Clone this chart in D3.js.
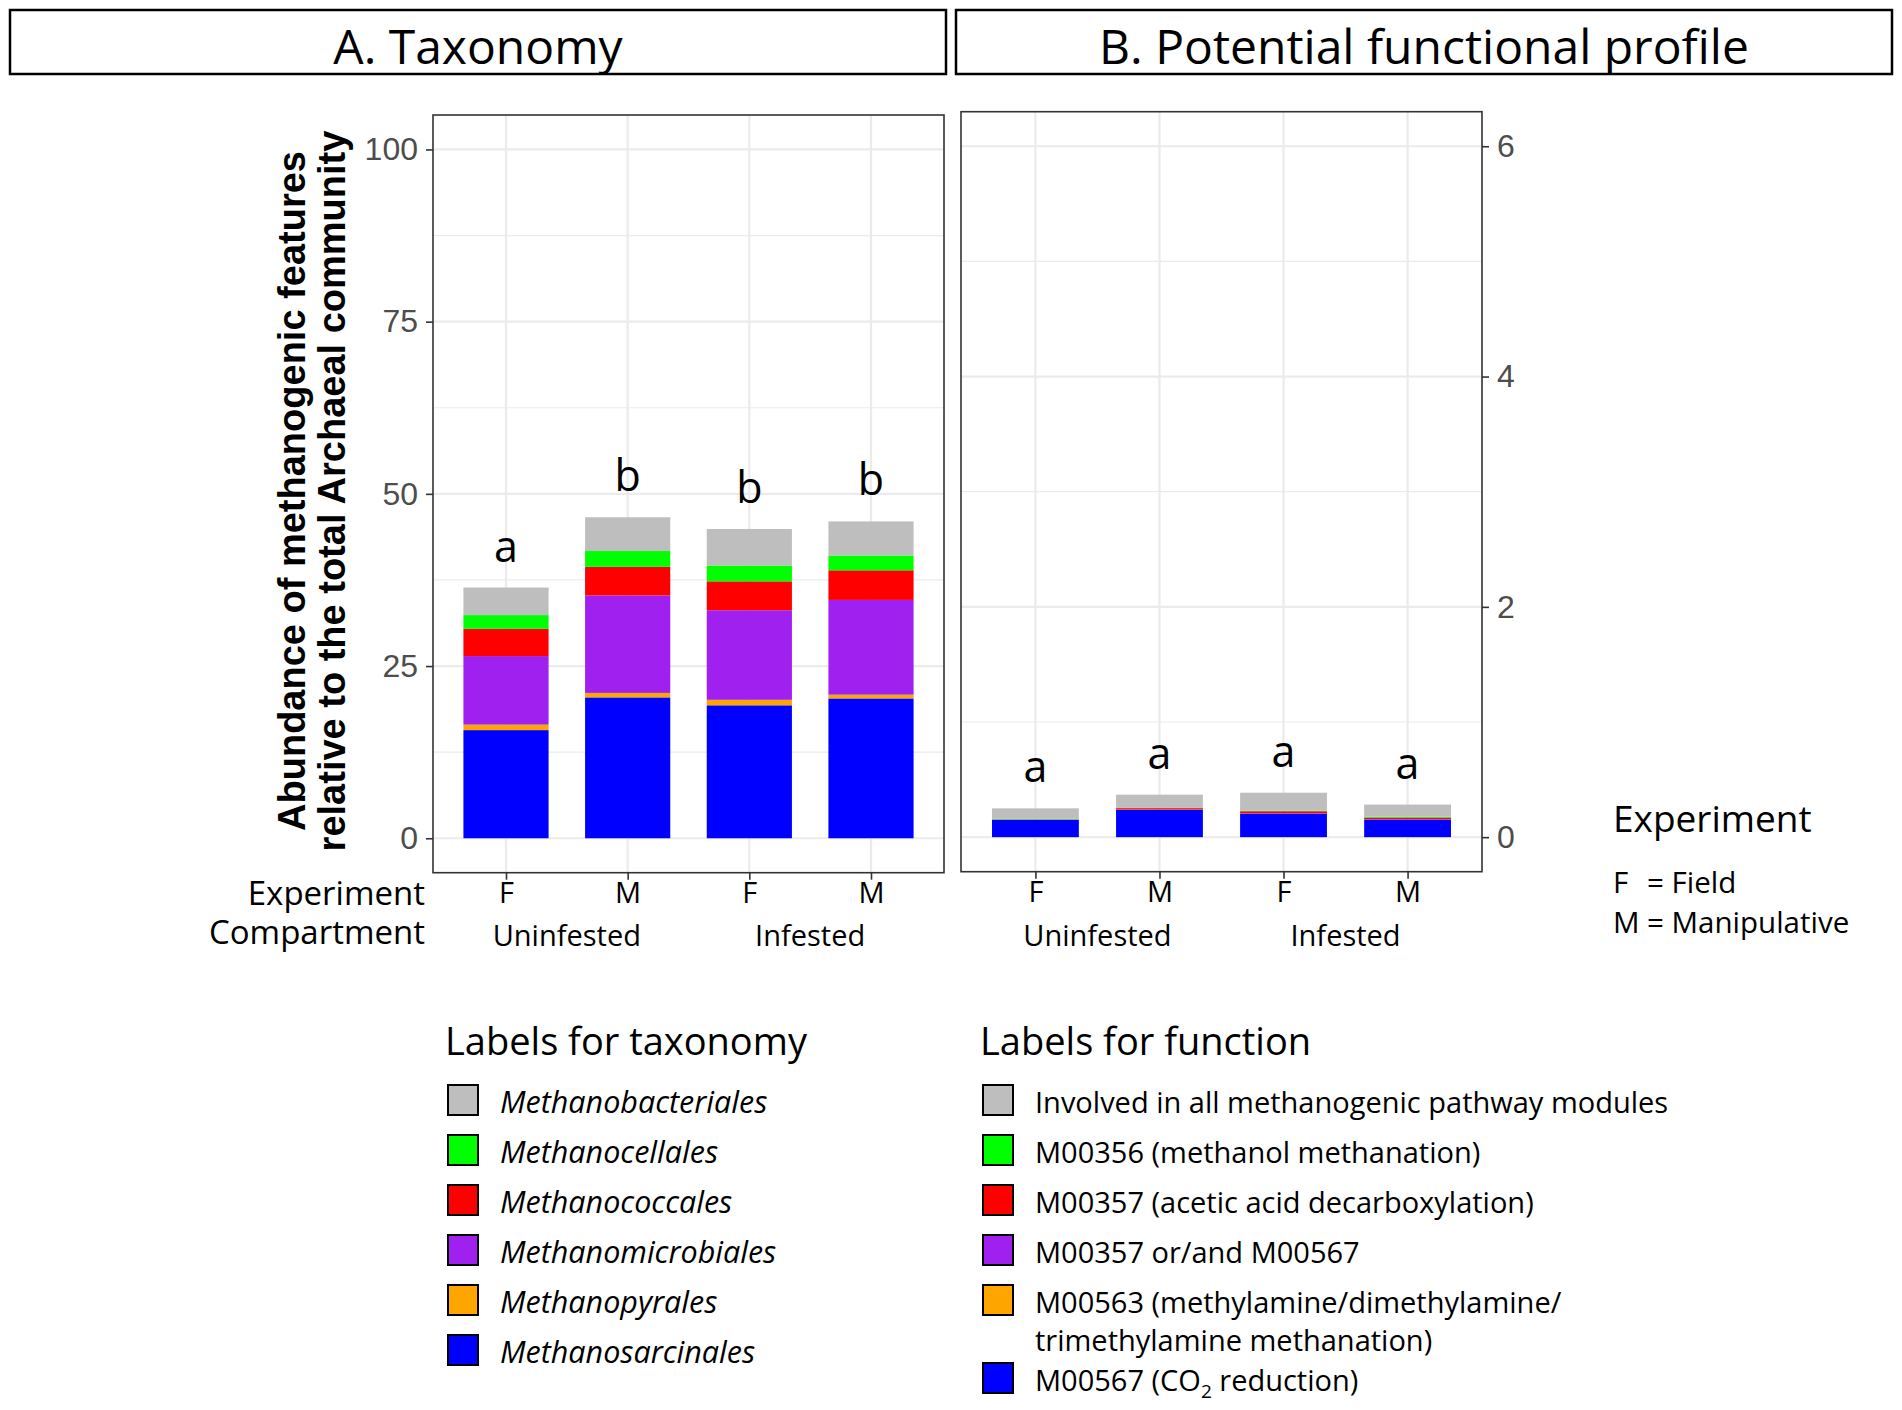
<!DOCTYPE html>
<html>
<head>
<meta charset="utf-8">
<script src="https://cdn.jsdelivr.net/npm/d3@7"></script>
<style>
  body { margin: 0; background: #fff; }
  text { font-family: "Open Sans", sans-serif; }
</style>
</head>
<body>
<div id="chart"></div>
<script>
// groups along the x axis
const experiment = ["F", "M", "F", "M"];
const compartment = ["Uninfested", "Uninfested", "Infested", "Infested"];
const compartments = ["Uninfested", "Infested"];

// A. taxonomy, % of archaeal community (stack order bottom -> top)
const methanosarcinales = [15.7, 20.45, 19.3, 20.3];
const methanopyrales = [0.8, 0.65, 0.8, 0.55];
const methanomicrobiales = [9.95, 14.15, 13.0, 13.75];
const methanococcales = [3.95, 4.15, 4.2, 4.3];
const methanocellales = [2.0, 2.3, 2.3, 2.15];
const methanobacteriales = [4.0, 4.9, 5.3, 4.95];
const taxonomyLetters = ["a", "b", "b", "b"];

// B. potential functional profile (stack order bottom -> top)
const m00567 = [0.150, 0.236, 0.205, 0.153];
const m00563 = [0.001, 0.001, 0.001, 0.001];
const m00357or567 = [0.002, 0.003, 0.002, 0.002];
const m00357 = [0.002, 0.012, 0.017, 0.014];
const m00356 = [0.006, 0.002, 0.006, 0.008];
const allModules = [0.089, 0.115, 0.155, 0.105];
const functionLetters = ["a", "a", "a", "a"];

const taxonomyTicks = [0, 25, 50, 75, 100];
const functionTicks = [0, 2, 4, 6];

// legend labels, top -> bottom
const taxonomyLabels = ["Methanobacteriales", "Methanocellales", "Methanococcales",
    "Methanomicrobiales", "Methanopyrales", "Methanosarcinales"];
const functionLabels = [
    ["Involved in all methanogenic pathway modules"],
    ["M00356 (methanol methanation)"],
    ["M00357 (acetic acid decarboxylation)"],
    ["M00357 or/and M00567"],
    ["M00563 (methylamine/dimethylamine/", "trimethylamine methanation)"],
    ["M00567 (CO2 reduction)"]
];

// bottom -> top: blue, orange, purple, red, green, grey
const layerColors = ["#0000ff", "#ffa500", "#a020f0", "#ff0000", "#00ff00", "#bebebe"];

const svg = d3.select("#chart")
    .append("svg")
    .attr("width", 1902)
    .attr("height", 1410);

// panel headers
const headers = [
    { label: "A. Taxonomy", x0: 10, x1: 946 },
    { label: "B. Potential functional profile", x0: 956, x1: 1892 }
];
headers.forEach(h => {
    svg.append("rect")
        .attr("x", h.x0).attr("y", 10)
        .attr("width", h.x1 - h.x0).attr("height", 64)
        .attr("fill", "none").attr("stroke", "#000").attr("stroke-width", 2.5);
    svg.append("text")
        .attr("x", (h.x0 + h.x1) / 2).attr("y", 64)
        .attr("text-anchor", "middle")
        .style("font-size", "48px")
        .text(h.label);
});

function drawPanel(p) {
    const idx = d3.range(experiment.length);
    const x = d3.scalePoint().domain(idx).range([p.left, p.right]).padding(0.6);
    const step = x.step();
    const y = d3.scaleLinear().domain(p.domain).range([p.bottom, p.top]);
    const g = svg.append("g");

    g.selectAll(".minor")
        .data(p.minor)
        .join("line")
        .attr("x1", p.left).attr("x2", p.right)
        .attr("y1", d => y(d)).attr("y2", d => y(d))
        .attr("stroke", "#ebebeb").attr("stroke-width", 1.2);

    g.selectAll(".major")
        .data(p.ticks)
        .join("line")
        .attr("x1", p.left).attr("x2", p.right)
        .attr("y1", d => y(d)).attr("y2", d => y(d))
        .attr("stroke", "#ebebeb").attr("stroke-width", 2.2);

    g.selectAll(".vgrid")
        .data(idx)
        .join("line")
        .attr("x1", d => x(d)).attr("x2", d => x(d))
        .attr("y1", p.top).attr("y2", p.bottom)
        .attr("stroke", "#ebebeb").attr("stroke-width", 2.2);

    const rows = idx.map(i => Object.fromEntries(p.series.map((s, j) => [j, s[i]])));
    const stacked = d3.stack().keys(d3.range(p.series.length))(rows);

    g.selectAll(".layer")
        .data(stacked)
        .join("g")
        .attr("fill", (d, i) => layerColors[i])
        .selectAll("rect")
        .data(d => d)
        .join("rect")
        .attr("x", (d, i) => x(i) - step * 0.35)
        .attr("width", step * 0.7)
        .attr("y", d => y(d[1]))
        .attr("height", d => y(d[0]) - y(d[1]));

    // significance letters
    const totals = idx.map(i => d3.sum(p.series, s => s[i]));
    g.selectAll(".letter")
        .data(p.letters)
        .join("text")
        .attr("x", (d, i) => x(i))
        .attr("y", (d, i) => y(totals[i]) - 26)
        .attr("text-anchor", "middle")
        .style("font-size", "43px")
        .text(d => d);

    g.append("rect")
        .attr("x", p.left).attr("y", p.top)
        .attr("width", p.right - p.left).attr("height", p.bottom - p.top)
        .attr("fill", "none").attr("stroke", "#333").attr("stroke-width", 1.6);

    const yAxis = (p.side === "left" ? d3.axisLeft(y) : d3.axisRight(y))
        .tickValues(p.ticks).tickFormat(d3.format("d")).tickSize(7).tickPadding(8);
    const ya = g.append("g")
        .attr("transform", `translate(${p.side === "left" ? p.left : p.right},0)`)
        .call(yAxis);
    ya.select(".domain").remove();
    ya.selectAll("line").attr("stroke", "#333").attr("stroke-width", 1.6);
    ya.selectAll("text")
        .style("font-family", "'Liberation Sans', Arial, sans-serif")
        .style("font-size", "32px")
        .attr("fill", "#4d4d4d");

    const xa = g.append("g")
        .attr("transform", `translate(0,${p.bottom})`)
        .call(d3.axisBottom(x).tickFormat(i => experiment[i]).tickSize(7).tickPadding(3));
    xa.select(".domain").remove();
    xa.selectAll("line").attr("stroke", "#333").attr("stroke-width", 1.6);
    xa.selectAll("text")
        .style("font-family", "'Open Sans', sans-serif")
        .style("font-size", "29px")
        .attr("fill", "#000");

    g.selectAll(".comp")
        .data(compartments)
        .join("text")
        .attr("x", c => d3.mean(idx.filter(i => compartment[i] === c), i => x(i)))
        .attr("y", 946)
        .attr("text-anchor", "middle")
        .style("font-size", "29px")
        .text(c => c);
}

drawPanel({
    left: 433, right: 944, top: 115, bottom: 872.7,
    domain: [-5, 105], ticks: taxonomyTicks, minor: [12.5, 37.5, 62.5, 87.5],
    side: "left",
    series: [methanosarcinales, methanopyrales, methanomicrobiales,
        methanococcales, methanocellales, methanobacteriales],
    letters: taxonomyLetters
});

drawPanel({
    left: 961, right: 1482, top: 111.7, bottom: 871.7,
    domain: [-0.3, 6.3], ticks: functionTicks, minor: [1, 3, 5],
    side: "right",
    series: [m00567, m00563, m00357or567, m00357, m00356, allModules],
    letters: functionLetters
});

// y axis title: one rotated text, two lines
const yTitle = svg.append("text")
    .attr("transform", "translate(305,491) rotate(-90)")
    .attr("text-anchor", "middle")
    .style("font-family", "'Liberation Sans', Arial, sans-serif")
    .style("font-weight", "bold")
    .style("font-size", "38px");
["Abundance of methanogenic features", "relative to the total Archaeal community"]
    .forEach((line, i) => {
        yTitle.append("tspan").attr("x", 0).attr("dy", i === 0 ? 0 : 40).text(line);
    });

// row labels under panel A (one text block, two lines)
const rowLabels = svg.append("text")
    .attr("text-anchor", "end")
    .style("font-size", "33px");
[["Experiment", 905], ["Compartment", 944]].forEach(([t, yy]) => {
    rowLabels.append("tspan").attr("x", 425).attr("y", yy).text(t);
});

// experiment key
svg.append("text").attr("x", 1613).attr("y", 832).style("font-size", "37px").text("Experiment");
const key = [["F", "= Field", 893], ["M", "= Manipulative", 933]];
key.forEach(([a, b, yy]) => {
    const t = svg.append("text").attr("x", 1613).attr("y", yy).style("font-size", "29.5px");
    t.append("tspan").text(a);
    t.append("tspan").attr("x", 1647).text(b);
});

// colour legends
function drawLegend(title, labels, x0, italic) {
    const colors = layerColors.slice().reverse();
    svg.append("text")
        .attr("x", x0 - 3).attr("y", 1055)
        .style("font-size", "38px")
        .text(title);
    let cy = 1100;
    labels.forEach((lines, i) => {
        svg.append("rect")
            .attr("x", x0).attr("y", cy - 15)
            .attr("width", 30).attr("height", 30)
            .attr("fill", colors[i]).attr("stroke", "#000").attr("stroke-width", 2);
        lines.forEach((line, k) => {
            const t = svg.append("text")
                .attr("x", x0 + 52).attr("y", cy + 13 + k * 38)
                .style("font-size", italic ? "30.5px" : "29px")
                .style("font-style", italic ? "italic" : "normal");
            const parts = line.split("CO2");
            t.append("tspan").text(parts[0]);
            if (parts.length > 1) {
                t.append("tspan").text("CO");
                t.append("tspan").attr("dy", 7).style("font-size", "19px").text("2");
                t.append("tspan").attr("dy", -7).text(parts[1]);
            }
        });
        cy += 50 + (lines.length - 1) * 28;
    });
}

drawLegend("Labels for taxonomy", taxonomyLabels.map(d => [d]), 448, true);
drawLegend("Labels for function", functionLabels, 983, false);
</script>
</body>
</html>
